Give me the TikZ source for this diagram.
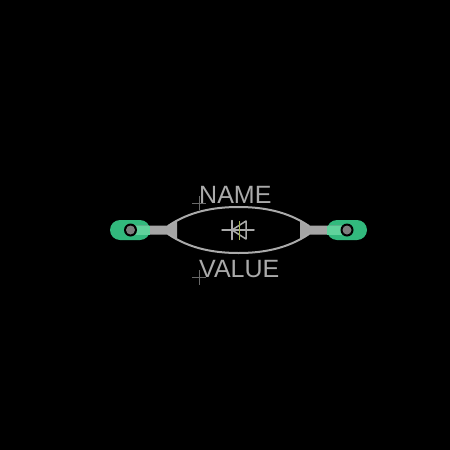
\documentclass[tikz,border=0pt]{standalone}
\usepackage{fontspec}
\setmainfont{Liberation Sans}
\definecolor{padgreen}{RGB}{50,185,125}
\definecolor{padlight}{RGB}{95,210,155}
\definecolor{silk}{RGB}{170,170,170}
\definecolor{lead}{RGB}{165,165,165}
\definecolor{holelead}{RGB}{125,125,125}
\definecolor{cross}{RGB}{105,105,105}
\definecolor{olive}{RGB}{165,180,85}
\tikzset{
  padshape/.style={fill=padgreen,rounded corners=10pt},
  silkline/.style={draw=silk,line width=2pt,line cap=round},
  symline/.style={draw=silk,line width=1.5pt,line cap=round,line join=round},
  originmark/.style={draw=cross,line width=.6pt},
  refdes/.style={inner sep=0pt,anchor=base west,text=silk,font=\fontsize{25}{25}\selectfont}
}
\begin{document}
\begin{tikzpicture}[x=1pt,y=-1pt]
\useasboundingbox (0,0) rectangle (450,450);
\fill[black] (0,0) rectangle (450,450);
% pads
\fill[padshape] (110,220) rectangle (150,240);
\fill[padshape] (327,220) rectangle (367,240);
% leads
\fill[lead] (135,225.5) -- (168,225.5) -- (177,221) -- (177,239) -- (168,234.5) -- (135,234.5) -- cycle;
\fill[lead] (342,225.5) -- (309,225.5) -- (300,221) -- (300,239) -- (309,234.5) -- (342,234.5) -- cycle;
\fill[padlight] (135,225.5) rectangle (150,234.5);
\fill[padlight] (327,225.5) rectangle (342,234.5);
% holes
\fill[black] (130.5,230) circle (6.5);
\fill[black] (347,230) circle (6.5);
\fill[holelead] (130.5,230) circle (4.5);
\fill[holelead] (347,230) circle (4.5);
% body
\draw[silkline] (168,226) .. controls (190,211) and (215,207) .. (238.5,207) .. controls (262,207) and (287,211) .. (309,226);
\draw[silkline] (168,234) .. controls (190,249) and (215,253) .. (238.5,253) .. controls (262,253) and (287,249) .. (309,234);
% diode symbol
\draw[symline] (222,230) -- (254,230);
\draw[symline] (232,220.5) -- (232,239.5);
\draw[symline] (232,230) -- (246,221) -- (246,239) -- cycle;
\draw[olive,line width=1pt] (239,221) -- (239,240);
% origin crosses
\draw[originmark] (192,203) -- (206,203) (199,196) -- (199,210);
\draw[originmark] (192,277) -- (206,277) (199,270) -- (199,285);
% text
\node[refdes] (name) at (199,203) {NAME};
\node[refdes] (value) at (199,277) {VALUE};
\end{tikzpicture}
\end{document}
